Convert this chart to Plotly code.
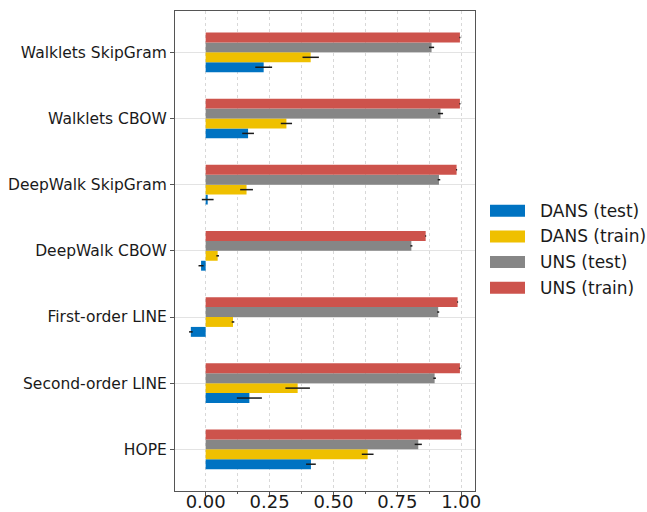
import plotly.graph_objects as go

# Methods, listed top to bottom as they appear on the chart
methods = [
    "Walklets SkipGram",
    "Walklets CBOW",
    "DeepWalk SkipGram",
    "DeepWalk CBOW",
    "First-order LINE",
    "Second-order LINE",
    "HOPE",
]

dans_test = [0.227, 0.166, 0.008, -0.018, -0.058, 0.171, 0.412]
dans_test_err = [0.033, 0.023, 0.023, 0.010, 0.007, 0.049, 0.019]

dans_train = [0.411, 0.316, 0.160, 0.047, 0.107, 0.360, 0.634]
dans_train_err = [0.032, 0.022, 0.025, 0.005, 0.005, 0.048, 0.023]

uns_test = [0.884, 0.919, 0.913, 0.805, 0.910, 0.896, 0.832]
uns_test_err = [0.010, 0.010, 0.005, 0.004, 0.004, 0.005, 0.014]

uns_train = [0.995, 0.995, 0.982, 0.861, 0.986, 0.995, 0.999]
uns_train_err = [0.002, 0.002, 0.002, 0.002, 0.002, 0.002, 0.001]

series = [
    ("DANS (test)", dans_test, dans_test_err, "#0073C2"),
    ("DANS (train)", dans_train, dans_train_err, "#EFC000"),
    ("UNS (test)", uns_test, uns_test_err, "#868686"),
    ("UNS (train)", uns_train, uns_train_err, "#CD534C"),
]

FONT = "DejaVu Sans"
W, H = 647, 512
ML, MR, MT, MB = 175, 172, 11, 21

fig = go.Figure()
for name, vals, errs, color in series:
    fig.add_trace(go.Bar(
        y=methods, x=vals, orientation="h", name=name,
        marker=dict(color=color, line=dict(width=0)),
        error_x=dict(type="data", array=errs, color="#1a1a1a",
                     thickness=1.5, width=0),
        showlegend=False,
    ))

# Legend drawn as wide colour patches with labels to the right of the axes
plot_w = W - ML - MR
plot_h = H - MT - MB
for i, (name, _, _, color) in enumerate(series):
    cy = 210.7 + i * 25.7
    yc = (H - MB - cy) / plot_h
    half = 6 / plot_h
    fig.add_shape(type="rect", xref="paper", yref="paper",
                  x0=(490 - ML) / plot_w, x1=(525 - ML) / plot_w,
                  y0=yc - half, y1=yc + half,
                  fillcolor=color, line=dict(width=0), layer="above")
    fig.add_annotation(xref="paper", yref="paper",
                       x=(538 - ML) / plot_w, y=yc, text=name,
                       showarrow=False, xanchor="left", yanchor="middle",
                       font=dict(family=FONT, size=17, color="#1a1a1a"))

fig.update_layout(
    width=W, height=H,
    margin=dict(l=ML, r=MR, t=MT, b=MB, pad=0, autoexpand=False),
    barmode="group", bargap=0.4, bargroupgap=0,
    plot_bgcolor="white", paper_bgcolor="white",
    font=dict(family=FONT, color="#1a1a1a"),
    showlegend=False,
    xaxis=dict(
        range=[-0.12, 1.054], tick0=0, dtick=0.25, tickformat=".2f",
        tickfont=dict(size=18), ticks="outside", ticklen=4,
        ticklabelstandoff=-10,
        tickcolor="#555", showline=True, linecolor="#555", linewidth=1.2,
        mirror=True, zeroline=False, automargin=False,
        showgrid=True, gridcolor="#d8d8d8", griddash="dot", gridwidth=1,
        minor=dict(dtick=0.125, tick0=0, ticks="outside", ticklen=2,
                   tickcolor="#555", showgrid=True, gridcolor="#d8d8d8",
                   griddash="dot", gridwidth=1),
    ),
    yaxis=dict(
        type="category", categoryorder="array",
        categoryarray=list(reversed(methods)),
        range=[-0.63, 6.625], automargin=False,
        tickfont=dict(size=15.5), ticks="outside", ticklen=4,
        tickcolor="#555", showline=True, linecolor="#555", linewidth=1.2,
        mirror=True, zeroline=False,
        showgrid=True, gridcolor="#e3e3e3", gridwidth=1,
    ),
)

fig.write_html("out.html")
